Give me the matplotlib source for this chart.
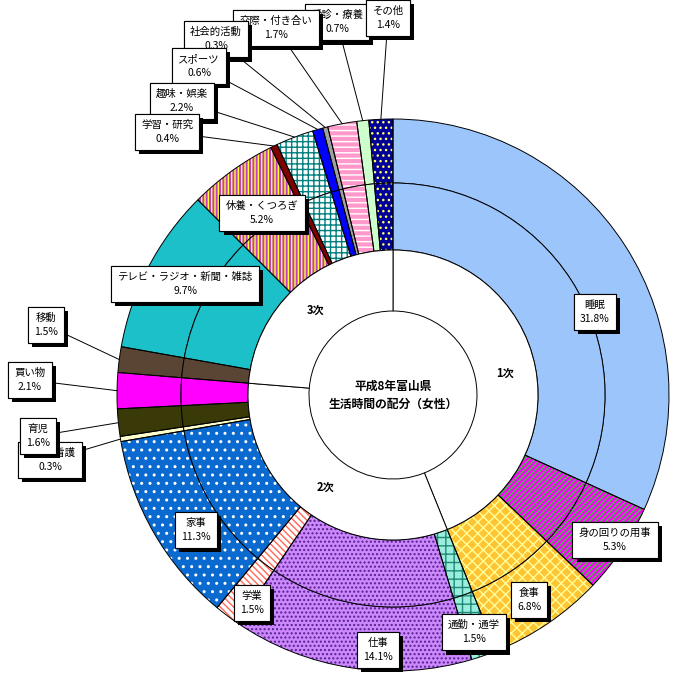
import numpy as np
import matplotlib
matplotlib.use("Agg")
import matplotlib.pyplot as plt
import matplotlib.patheffects as pe

plt.rcParams["font.family"] = ["Noto Sans CJK JP", "DejaVu Sans"]

# data
names = ["睡眠", "身の回りの用事", "食事", "通勤・通学", "仕事", "学業", "家事",
         "介護・看護", "育児", "買い物", "移動", "テレビ・ラジオ・新聞・雑誌",
         "休養・くつろぎ", "学習・研究", "趣味・娯楽", "スポーツ", "社会的活動",
         "交際・付き合い", "受診・療養", "その他"]
shares = [31.8, 5.3, 6.8, 1.5, 14.1, 1.5, 11.3, 0.3, 1.6, 2.1, 1.5, 9.7,
          5.2, 0.4, 2.2, 0.6, 0.3, 1.7, 0.7, 1.4]
groups = ["1次", "2次", "3次"]
group_size = [3, 7, 10]  # number of activities in each group
title = "平成8年富山県\n生活時間の配分（女性）"

# styles
faces = ["#9cc6fb", "#ff00ff", "#ffc433", "#99eedd", "#cc88ff", "#ffffff", "#0a6ad0",
         "#ffffcc", "#3a3a08", "#ff00ff", "#5a4535", "#1cc0c8",
         "#c040c0", "#800000", "#ffffff", "#0000ff", "#a0a0a0",
         "#ff99cc", "#ccffcc", "#000099"]
hatches = [None, "//////", "xxx", "++", "....", "\\\\\\\\\\", "..",
           None, None, None, None, None,
           "|||||", None, "+++", None, None,
           "---", None, "..."]
hcolors = ["none", "#33cc33", "#ffff99", "#228877", "#552288", "#ff6655", "white",
           "none", "none", "none", "none", "none",
           "#ffff33", "none", "#007f7f", "none", "none",
           "white", "none", "#ffff66"]

# label box centres in pixels, leader line yes/no, stacking order
label_px = [(595, 312), (615, 540), (529, 600), (474, 632), (378, 650), (252, 603),
            (196, 530), (50, 460), (38, 436), (30, 380), (46, 325), (185, 284),
            (262, 213), (167, 132), (182, 101), (199, 66), (216, 39),
            (276, 28), (337, 22), (388, 18)]
leader = [False, False, False, False, False, False, False, True, True, True, True,
          False, False, True, True, True, True, True, True, True]
label_z = [5, 5, 5, 5, 5, 5, 5, 5, 6, 5, 5, 5,
           5, 11, 10, 9, 8, 7, 5, 6]

CX, CY = 393, 395
R_OUT, R_MID, R_IN, R_HOLE = 276, 212, 145, 84


def px(x, y):
    return x - CX, CY - y


fig = plt.figure(figsize=(6.86, 6.81), dpi=100)
ax = fig.add_axes([0, 0, 1, 1])

for r, w in [(R_OUT, R_OUT - R_MID), (R_MID, R_MID - R_IN)]:
    wedges, _ = ax.pie(shares, radius=r, startangle=90, counterclock=False,
                       wedgeprops=dict(width=w, linewidth=0))
    for wd, fc, h, hc in zip(wedges, faces, hatches, hcolors):
        wd.set_facecolor(fc)
        if h:
            wd.set_hatch(h)
            wd.set_edgecolor(hc)
            wd.set_linewidth(0)
    ax.pie(shares, radius=r, startangle=90, counterclock=False,
           wedgeprops=dict(width=w, fill=False, edgecolor="black", linewidth=0.7))

# group ring (1次/2次/3次)
bounds = np.cumsum([0] + group_size)
group_vals = [sum(shares[bounds[i]:bounds[i + 1]]) for i in range(3)]
ax.pie(group_vals, radius=R_IN, startangle=90, counterclock=False,
       wedgeprops=dict(width=R_IN - R_HOLE, facecolor="white",
                       edgecolor="black", linewidth=0.7))

cum = np.cumsum([0] + group_vals)
for i, g in enumerate(groups):
    a = np.deg2rad(90 - 3.6 * (cum[i] + group_vals[i] / 2))
    rr = (R_IN + R_HOLE) / 2
    ax.text(rr * np.cos(a), rr * np.sin(a), g, ha="center", va="center",
            fontsize=8, fontweight="bold")

ax.text(0, 0, title, ha="center", va="center", fontsize=8.5, fontweight="bold",
        linespacing=1.5)

# labels
cum_s = np.cumsum([0] + shares)
for i, (n, v) in enumerate(zip(names, shares)):
    tx, ty = px(*label_px[i])
    kw = dict(ha="center", va="center", fontsize=7.5, linespacing=1.5,
              bbox=dict(boxstyle="square,pad=0.6", facecolor="white",
                        edgecolor="black", linewidth=0.8),
              zorder=label_z[i])
    if leader[i]:
        a = np.deg2rad(90 - 3.6 * (cum_s[i] + v / 2))
        t = ax.annotate(f"{n}\n{v}%", xy=(R_OUT * np.cos(a), R_OUT * np.sin(a)),
                        xytext=(tx, ty), textcoords="data",
                        arrowprops=dict(arrowstyle="-", color="black", lw=0.7,
                                        shrinkA=0, shrinkB=0), **kw)
    else:
        t = ax.text(tx, ty, f"{n}\n{v}%", **kw)
    t.get_bbox_patch().set_path_effects(
        [pe.withSimplePatchShadow(offset=(3, -3), shadow_rgbFace="black", alpha=1.0),
         pe.Normal()])

ax.set_aspect("auto")
ax.set_xlim(-CX, 686 - CX)
ax.set_ylim(CY - 681, CY)
ax.axis("off")

fig.savefig("out.png", dpi=100, facecolor="white")
